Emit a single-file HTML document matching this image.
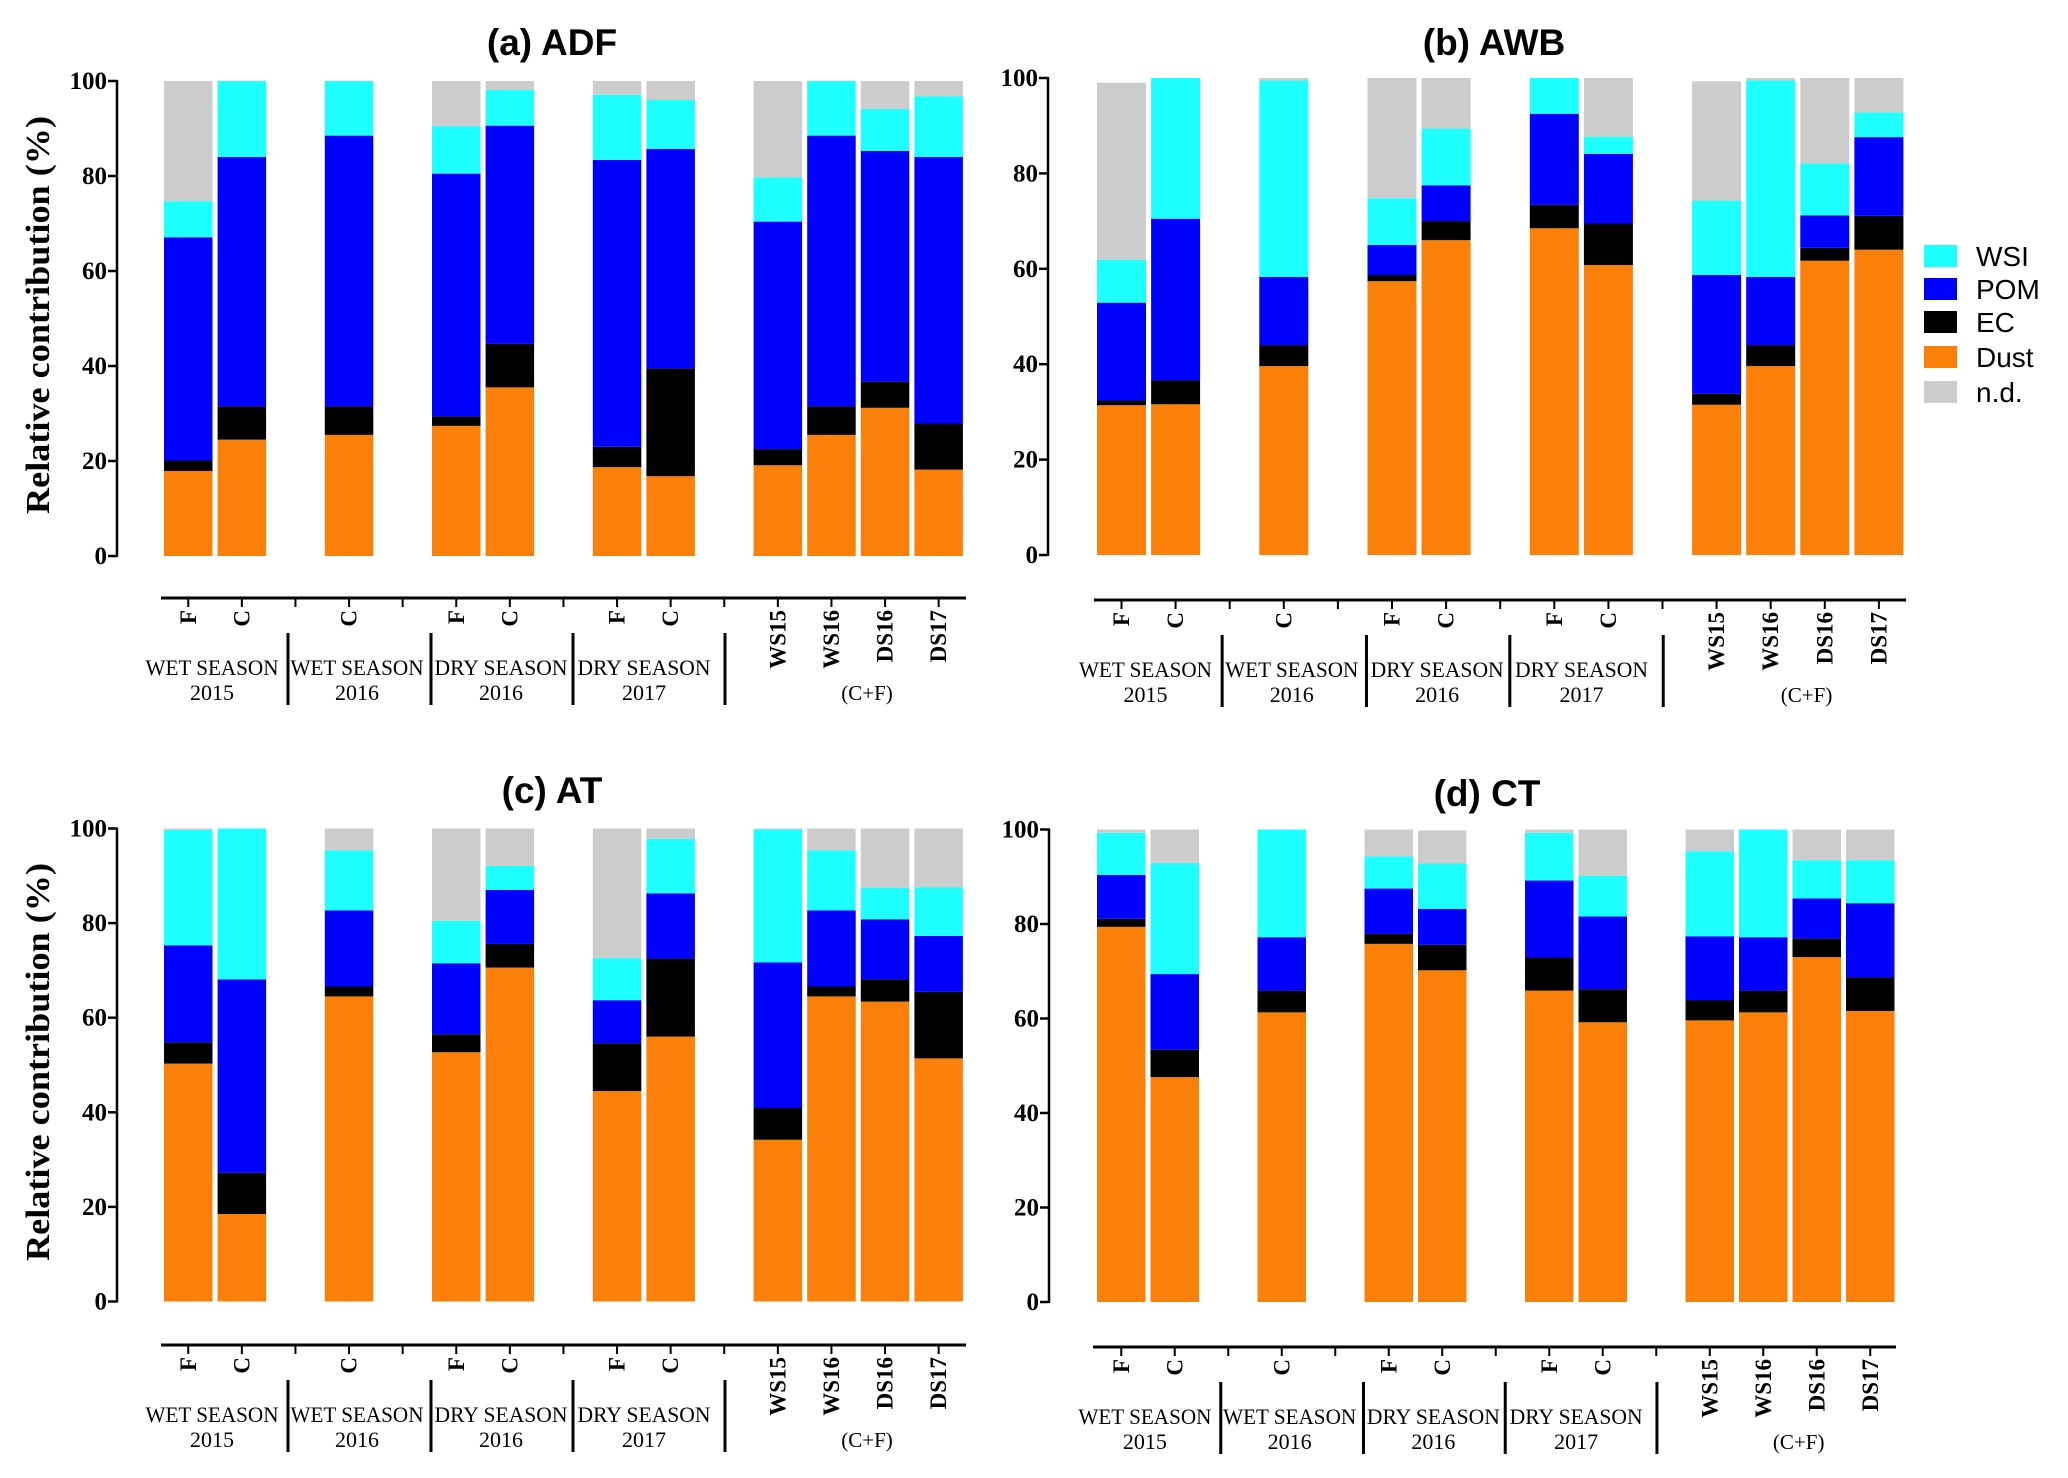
<!DOCTYPE html>
<html><head><meta charset="utf-8">
<style>
html,body{margin:0;padding:0;background:#fff;}
svg{display:block;}
</style></head>
<body>
<svg id="fig" width="2068" height="1478" viewBox="0 0 2068 1478" xmlns="http://www.w3.org/2000/svg"></svg>
<script>
// ---- data ----
const categories = ["F","C","C","F","C","F","C","WS15","WS16","DS16","DS17"];
const slots = [0,1,3,5,6,8,9,11,12,13,14];
const components = ["Dust","EC","POM","WSI","n.d."];
const tickLabels = ["0","20","40","60","80","100"];
const tickValues = [0,20,40,60,80,100];
const groupLine1 = ["WET SEASON","WET SEASON","DRY SEASON","DRY SEASON","(C+F)"];
const groupLine2 = ["2015","2016","2016","2017",""];
// segment values per bar: [Dust, EC, POM, WSI, n.d.]
const adfValues = [
 [17.9,2.2,47.0,7.6,25.3],[24.5,7.0,52.5,16.0,0],[25.5,6.0,57.0,11.5,0],
 [27.4,2.0,51.1,10.0,9.5],[35.5,9.2,45.9,7.5,1.9],[18.7,4.3,60.4,13.7,2.9],
 [16.8,22.7,46.2,10.3,4.0],[19.1,3.4,47.9,9.3,20.3],[25.5,6.0,57.0,11.5,0],
 [31.2,5.5,48.6,8.8,5.9],[18.2,9.7,56.1,12.8,3.2]];
const awbValues = [
 [31.4,1.0,20.5,9.0,37.1],[31.6,5.0,33.9,29.5,0],[39.6,4.4,14.3,41.2,0.5],
 [57.4,1.3,6.3,9.8,25.2],[66.0,4.0,7.5,11.9,10.6],[68.5,4.9,19.1,7.5,0],
 [60.8,8.7,14.6,3.6,12.3],[31.5,2.3,24.9,15.6,25.0],[39.6,4.4,14.3,41.2,0.5],
 [61.7,2.7,6.8,10.9,17.9],[64.0,7.1,16.5,5.2,7.2]];
const atValues = [
 [50.3,4.5,20.5,24.4,0.3],[18.5,8.7,40.9,31.9,0],[64.5,2.1,16.1,12.7,4.6],
 [52.7,3.8,15.0,9.0,19.5],[70.6,5.0,11.4,5.1,7.9],[44.5,10.1,9.1,8.9,27.4],
 [56.0,16.5,13.8,11.5,2.2],[34.2,6.7,30.8,28.1,0.2],[64.5,2.1,16.1,12.7,4.6],
 [63.4,4.7,12.7,6.7,12.5],[51.4,14.1,11.8,10.3,12.4]];
const ctValues = [
 [79.4,1.7,9.3,8.9,0.7],[47.6,5.8,16.0,23.5,7.1],[61.3,4.6,11.3,22.8,0],
 [75.8,2.1,9.6,6.8,5.7],[70.2,5.4,7.6,9.6,7.0],[65.9,7.0,16.3,10.1,0.7],
 [59.2,7.0,15.4,8.6,9.8],[59.6,4.3,13.5,18.0,4.6],[61.3,4.6,11.3,22.8,0],
 [73.0,3.9,8.5,8.1,6.5],[61.6,7.1,15.7,9.1,6.5]];

const colors = ["#fb8009","#000000","#0000ff","#1effff","#cccccc"];
const svg = document.getElementById('fig');
const NS = "http://www.w3.org/2000/svg";
function mk(tag, attrs, parent){
  const e = document.createElementNS(NS, tag);
  for (const k in attrs) e.setAttribute(k, attrs[k]);
  (parent||svg).appendChild(e);
  return e;
}
const serif = '"Liberation Serif", serif';
const sans = '"Liberation Sans", sans-serif';

const panels = [
 {id:"adf", title:"(a) ADF", data:adfValues, ax:117, y100:81, y0:556, b0:164, pitch:53.6, bw:48.5, tx:552, ty:55, xl:598, x1:161, x2:966, ytitle:315},
 {id:"awb", title:"(b) AWB", data:awbValues, ax:1048, y100:78, y0:555, b0:1097, pitch:54.1, bw:49, tx:1494, ty:55, xl:600, x1:1094, x2:1906, ytitle:0},
 {id:"at", title:"(c) AT", data:atValues, ax:117, y100:828.5, y0:1301.5, b0:164, pitch:53.6, bw:48.5, tx:552, ty:803, xl:1345, x1:161, x2:966, ytitle:1062},
 {id:"ct", title:"(d) CT", data:ctValues, ax:1049, y100:829.5, y0:1302, b0:1097, pitch:53.5, bw:48.5, tx:1487, ty:806, xl:1347, x1:1093, x2:1896, ytitle:0}
];
const groupCenters = [48,193,337,480,703];
const groupSeps = [124,267,409,561];

panels.forEach(p=>{
  const g = mk('g',{});
  
  
  const yScale = v => p.y0 - (v/100)*(p.y0-p.y100);
  const xSlot = n => p.b0 + n*p.pitch;
  const s = p.pitch/53.6;
  const t = mk('text',{x:p.tx,y:p.ty,'text-anchor':'middle','font-family':sans,'font-weight':'bold','font-size':37},g);
  t.textContent = p.title;
  
  
  p.data.forEach((vals,i)=>{
    let cum = 0;
    vals.forEach((v,j)=>{
      if (v<=0) return;
      const yt = yScale(cum+v), yb = yScale(cum);
      const r = mk('rect',{x:xSlot(slots[i]), y:yt, width:p.bw, height:yb-yt, fill:colors[j]},g);
      
      
      cum += v;
    });
  });
  const ya = mk('line',{x1:p.ax,y1:p.y100-1,x2:p.ax,y2:p.y0+1,stroke:'#000','stroke-width':2.5},g);
  
  
  tickValues.forEach((v,k)=>{
    const y = yScale(v);
    mk('line',{x1:p.ax-9,y1:y,x2:p.ax,y2:y,stroke:'#000','stroke-width':2.5},g);
    const tl = mk('text',{x:p.ax-10,y:y+8,'text-anchor':'end','font-family':serif,'font-weight':'bold','font-size':25},g);
    tl.textContent = tickLabels[k];
    
    
  });
  if (p.ytitle){
    const yt = mk('text',{x:0,y:0,'text-anchor':'middle','font-family':serif,'font-weight':'bold','font-size':34,textLength:398,lengthAdjust:'spacingAndGlyphs',transform:'translate(49,'+p.ytitle+') rotate(-90)'},g);
    yt.textContent = 'Relative contribution (%)';
    
    
  }
  const xa = mk('line',{x1:p.x1,y1:p.xl,x2:p.x2,y2:p.xl,stroke:'#000','stroke-width':3},g);
  
  
  for (let n=0;n<15;n++){
    const cx = xSlot(n)+p.bw/2;
    mk('line',{x1:cx,y1:p.xl,x2:cx,y2:p.xl+9,stroke:'#000','stroke-width':2},g);
  }
  categories.forEach((c,i)=>{
    const cx = xSlot(slots[i])+p.bw/2;
    const tl = mk('text',{x:0,y:0,'text-anchor':'end','dominant-baseline':'central','font-family':serif,'font-weight':'bold','font-size':23,transform:'translate('+cx+','+(p.xl+12)+') rotate(-90)'},g);
    tl.textContent = c;
    
    
  });
  groupSeps.forEach(o=>{
    const x = p.b0 + o*s;
    const l = mk('line',{x1:x,y1:p.xl+35,x2:x,y2:p.xl+107,stroke:'#000','stroke-width':3},g);
    
    
  });
  groupCenters.forEach((o,k)=>{
    const x = p.b0 + o*s;
    if (groupLine1[k]==='(C+F)'){
      const tl = mk('text',{x:x,y:p.xl+102,'text-anchor':'middle','font-family':serif,'font-size':21},g);
      tl.textContent = groupLine1[k];
      
      
      return;
    }
    const t1 = mk('text',{x:x,y:p.xl+77,'text-anchor':'middle','font-family':serif,'font-size':22,textLength:133,lengthAdjust:'spacingAndGlyphs'},g);
    t1.textContent = groupLine1[k];
    
    
    const t2 = mk('text',{x:x,y:p.xl+102,'text-anchor':'middle','font-family':serif,'font-size':22},g);
    t2.textContent = groupLine2[k];
    
    
  });
});

const legOrder = [3,2,1,0,4];
const legRows = [256,289,322,357,392];
const lg = mk('g',{});


legOrder.forEach((j,k)=>{
  const y = legRows[k];
  const r = mk('rect',{x:1924,y:y-11,width:33,height:22,fill:colors[j]},lg);
  
  
  const t = mk('text',{x:1976,y:y+10,'font-family':sans,'font-size':28},lg);
  t.textContent = components[j];
  
  
});
</script>
</body></html>
